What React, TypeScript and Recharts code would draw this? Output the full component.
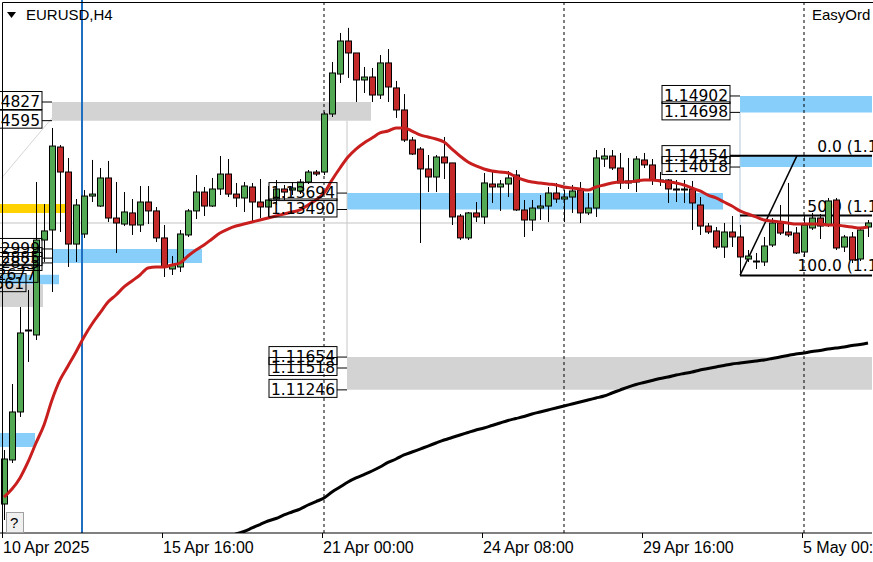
import React from "react";
import {
  ComposedChart,
  Bar,
  Line,
  XAxis,
  YAxis,
  ReferenceArea,
  ReferenceLine,
  ReferenceDot,
} from "recharts";

// EURUSD H4, bar 0 = 10 Apr 2025 08:00 (six bars a day)
const opens = [
  1.09826, 1.10374, 1.10971, 1.11979, 1.11929, 1.1311, 1.13235, 1.14267, 1.13956, 1.1306,
  1.13185, 1.13657, 1.13533, 1.13882, 1.13384, 1.13309, 1.13447, 1.13297, 1.13583, 1.13472,
  1.13136, 1.1275, 1.12775, 1.13173, 1.13472, 1.13707, 1.13533, 1.13745, 1.13931, 1.13682,
  1.13633, 1.1377, 1.13583, 1.13521, 1.1362, 1.13745, 1.13732, 1.1372, 1.13832, 1.13956,
  1.13956, 1.14678, 1.15175, 1.15586, 1.15437, 1.15101, 1.15138, 1.14914, 1.15313, 1.15002,
  1.14728, 1.14354, 1.14242, 1.13994, 1.13894, 1.14143, 1.14069, 1.13409, 1.13136, 1.13447,
  1.13397, 1.13807, 1.1377, 1.13807, 1.13919, 1.13484, 1.13359, 1.13508, 1.13533, 1.13695,
  1.1362, 1.13645, 1.13732, 1.13447, 1.13508, 1.14118, 1.14155, 1.14006, 1.1382, 1.13832,
  1.14106, 1.14044, 1.13845, 1.13857, 1.13745, 1.13732, 1.13745, 1.13546, 1.13284, 1.13223,
  1.13023, 1.1321, 1.13148, 1.12874, 1.12849, 1.12837, 1.13048, 1.13322, 1.1321, 1.13197,
  1.12961, 1.1326, 1.13384, 1.13297, 1.13608, 1.13023, 1.13148, 1.12874, 1.13272,
];
const highs = [
  1.10498, 1.11319, 1.12277, 1.12488, 1.13832, 1.13558, 1.14504, 1.14292, 1.14131, 1.1362,
  1.13732, 1.14106, 1.14006, 1.14094, 1.13832, 1.13707, 1.1362, 1.13782, 1.13782, 1.13521,
  1.13297, 1.12911, 1.13235, 1.13496, 1.13919, 1.1377, 1.13882, 1.14155, 1.14118, 1.1382,
  1.13832, 1.1382, 1.13869, 1.13782, 1.13857, 1.13795, 1.13832, 1.13869, 1.13981, 1.13981,
  1.14703, 1.15325, 1.15686, 1.15749, 1.15437, 1.15263, 1.15251, 1.15412, 1.15486, 1.15089,
  1.14926, 1.14392, 1.14267, 1.14168, 1.14168, 1.14392, 1.14069, 1.13434, 1.13459, 1.13583,
  1.13944, 1.13956, 1.13857, 1.13969, 1.13981, 1.13608, 1.13608, 1.1367, 1.1377, 1.1382,
  1.13732, 1.13795, 1.13832, 1.13695, 1.1423, 1.14255, 1.1423, 1.14193, 1.14131, 1.14155,
  1.14193, 1.14118, 1.13956, 1.13869, 1.13857, 1.13857, 1.13845, 1.13645, 1.13322, 1.13272,
  1.13322, 1.13409, 1.13297, 1.12986, 1.12949, 1.13148, 1.13384, 1.13546, 1.1382, 1.13272,
  1.13421, 1.13447, 1.13434, 1.13633, 1.13633, 1.13173, 1.1321, 1.13272, 1.13359,
];
const lows = [
  1.09627, 1.10337, 1.10909, 1.11593, 1.11866, 1.12837, 1.12463, 1.1321, 1.12775, 1.12837,
  1.13136, 1.13583, 1.13521, 1.13334, 1.12949, 1.13284, 1.13173, 1.1321, 1.13309, 1.13085,
  1.1265, 1.12675, 1.12712, 1.13148, 1.13371, 1.13409, 1.13521, 1.1367, 1.13645, 1.13521,
  1.13459, 1.13347, 1.13384, 1.13397, 1.13546, 1.13608, 1.1367, 1.13682, 1.13807, 1.13906,
  1.13919, 1.14641, 1.15064, 1.15126, 1.14827, 1.14939, 1.14827, 1.14864, 1.14827, 1.14629,
  1.14329, 1.14168, 1.13073, 1.13707, 1.13707, 1.13869, 1.13297, 1.1311, 1.1311, 1.13334,
  1.13309, 1.13571, 1.13472, 1.13645, 1.13472, 1.13148, 1.13223, 1.13359, 1.13334, 1.13571,
  1.13334, 1.13447, 1.13322, 1.13421, 1.13397, 1.14019, 1.13981, 1.13745, 1.13745, 1.13707,
  1.14006, 1.13795, 1.13782, 1.13571, 1.13583, 1.13571, 1.13235, 1.13173, 1.13185, 1.12998,
  1.12887, 1.13023, 1.12675, 1.12837, 1.1275, 1.12787, 1.13023, 1.13173, 1.13148, 1.12936,
  1.12899, 1.13235, 1.13123, 1.13272, 1.12986, 1.12961, 1.12824, 1.12849, 1.13148,
];
const closes = [
  1.10386, 1.10971, 1.11954, 1.11991, 1.1311, 1.13223, 1.14279, 1.13956, 1.1306, 1.13546,
  1.13657, 1.13682, 1.13882, 1.13384, 1.13322, 1.13459, 1.13297, 1.13583, 1.13472, 1.13136,
  1.12775, 1.128, 1.13185, 1.13472, 1.13707, 1.13533, 1.13745, 1.13931, 1.13682, 1.13633,
  1.13782, 1.13583, 1.13521, 1.13608, 1.13745, 1.13707, 1.13757, 1.13832, 1.13956, 1.13931,
  1.14678, 1.15188, 1.15586, 1.15437, 1.15101, 1.15138, 1.14914, 1.15313, 1.15014, 1.14728,
  1.14354, 1.1418, 1.13994, 1.13894, 1.14143, 1.14069, 1.13397, 1.13136, 1.13447, 1.13397,
  1.1382, 1.1377, 1.13807, 1.13882, 1.13484, 1.13359, 1.13508, 1.13533, 1.13695, 1.1362,
  1.13645, 1.1372, 1.13447, 1.13508, 1.14131, 1.14155, 1.14006, 1.1382, 1.13845, 1.14118,
  1.14044, 1.13857, 1.13857, 1.13745, 1.13732, 1.13745, 1.13571, 1.13284, 1.1321, 1.13023,
  1.1321, 1.13148, 1.12899, 1.12911, 1.12837, 1.13036, 1.13322, 1.13197, 1.13173, 1.12949,
  1.13297, 1.13384, 1.13284, 1.13596, 1.13011, 1.13148, 1.12862, 1.13235, 1.13322,
];

// fast moving average (red)
const maFast = [
  1.09913, 1.10012, 1.1015, 1.10349, 1.10585, 1.10809, 1.1112, 1.11369, 1.11543, 1.11717,
  1.11904, 1.12065, 1.12203, 1.12339, 1.12426, 1.12526, 1.12601, 1.12675, 1.12762, 1.12775,
  1.12775, 1.128, 1.12824, 1.12911, 1.12986, 1.13048, 1.13123, 1.13197, 1.13247, 1.13284,
  1.13309, 1.13334, 1.13359, 1.13384, 1.13409, 1.13434, 1.13459, 1.13484, 1.13546, 1.13608,
  1.13695, 1.13857, 1.14006, 1.14143, 1.14242, 1.14317, 1.14379, 1.14442, 1.14466, 1.14504,
  1.14504, 1.14466, 1.14417, 1.14392, 1.14367, 1.14329, 1.14242, 1.14155, 1.14081, 1.14031,
  1.13994, 1.13969, 1.13956, 1.13944, 1.13894, 1.13857, 1.13832, 1.1382, 1.13807, 1.13795,
  1.1377, 1.13757, 1.13745, 1.13732, 1.1377, 1.13795, 1.1382, 1.13832, 1.13832, 1.13845,
  1.13857, 1.13857, 1.13845, 1.13832, 1.1382, 1.13795, 1.13757, 1.1372, 1.1367, 1.13633,
  1.13583, 1.13533, 1.13472, 1.13434, 1.13397, 1.13359, 1.13347, 1.13334, 1.13322, 1.13309,
  1.13309, 1.13309, 1.13309, 1.13297, 1.13297, 1.13284, 1.13272, 1.1326, 1.13272,
];

// slow moving average (black), first bar it is shown on
const maSlowStart = 28;
const maSlow = [
  1.09403, 1.09453, 1.09484, 1.09528, 1.09571, 1.09615, 1.09646, 1.0969, 1.09727, 1.09764,
  1.09814, 1.09857, 1.09901, 1.09975, 1.10037, 1.101, 1.1015, 1.10193, 1.10237, 1.10287,
  1.10343, 1.10386, 1.10436, 1.10473, 1.1051, 1.10547, 1.10585, 1.10622, 1.10653, 1.10685,
  1.10716, 1.10747, 1.10772, 1.10803, 1.10834, 1.10865, 1.1089, 1.10915, 1.10946, 1.10971,
  1.10996, 1.11021, 1.11045, 1.1107, 1.11095, 1.1112, 1.11145, 1.1117, 1.11207, 1.11244,
  1.11281, 1.11313, 1.11338, 1.11363, 1.11388, 1.11406, 1.11431, 1.1145, 1.11468, 1.11493,
  1.11512, 1.11531, 1.1155, 1.11568, 1.1158, 1.11593, 1.11605, 1.11618, 1.11636, 1.11655,
  1.11674, 1.11692, 1.11705, 1.11723, 1.11736, 1.11754, 1.11767, 1.11779, 1.11798, 1.1181, 1.11829,
];

const tickBars = [0, 20, 40, 60, 80, 100];
const tickLabels = ["10 Apr 2025", "15 Apr 16:00", "21 Apr 00:00", "24 Apr 08:00", "29 Apr 16:00", "5 May 00:00"];
const weekBars = [40, 70, 100];

// drawn zones: from bar, to bar, top price, bottom price
const zones = [
  { from: 6, to: 45.875, top: 1.14827, bottom: 1.14595, kind: "grey" },
  { from: 42.875, to: 89.875, top: 1.13694, bottom: 1.1349, kind: "blue" },
  { from: 92, to: 108.5, top: 1.14902, bottom: 1.14698, kind: "blue" },
  { from: 92, to: 108.5, top: 1.14154, bottom: 1.14018, kind: "blue" },
  { from: 42.875, to: 108.5, top: 1.11654, bottom: 1.11246, kind: "grey" },
  { from: 6, to: 24.75, top: 1.12999, bottom: 1.12825, kind: "blue" },
  { from: -0.5, to: 6.875, top: 1.12677, bottom: 1.12561, kind: "blue" },
  { from: -0.5, to: 4.875, top: 1.12561, bottom: 1.12277, kind: "grey" },
  { from: -0.5, to: 3.875, top: 1.10709, bottom: 1.10535, kind: "blue" },
  { from: -0.5, to: 7.625, top: 1.13558, bottom: 1.13446, kind: "gold" },
];

// price tags attached to the zones
const tags = [
  { at: 6, price: 1.14827, link: true },
  { at: 6, price: 1.14595, link: true },
  { at: 6, price: 1.12999, link: true },
  { at: 6, price: 1.12885, link: true },
  { at: 6, price: 1.12825, link: true },
  { at: 4.25, price: 1.12677, link: false },
  { at: 2.75, price: 1.12561, link: false },
  { at: 42.875, price: 1.13694, link: true },
  { at: 42.875, price: 1.1349, link: true },
  { at: 42.875, price: 1.11654, link: true },
  { at: 42.875, price: 1.11518, link: true },
  { at: 42.875, price: 1.11246, link: true },
  { at: 92, price: 1.14902, link: true },
  { at: 92, price: 1.14698, link: true },
  { at: 92, price: 1.14154, link: true },
  { at: 92, price: 1.14018, link: true },
];

// fibonacci retracement
const fibFrom = 92;
const fibTo = 99.125;
const fibLevels = [
  { name: "0.0", price: 1.1416 },
  { name: "50.0", price: 1.13415 },
  { name: "100.0", price: 1.1267 },
];

const bidLine = 1.13322;

const UP = "#53A853";
const DOWN = "#C42A2A";
const zoneColor: Record<string, string> = { grey: "#D3D3D3", blue: "#87CEFA", gold: "#FFD200" };
const LABEL_FONT = "DejaVu Sans";
const AXIS_FONT = "Liberation Sans";

const rows = opens.map((o, i) => ({
  i,
  o,
  h: highs[i],
  l: lows[i],
  c: closes[i],
  range: [lows[i], highs[i]],
  fast: maFast[i],
  slow: i >= maSlowStart ? maSlow[i - maSlowStart] : null,
}));

const Candle = (props: any) => {
  const { x, y, width, height, payload } = props;
  if (x == null || !payload) return null;
  const yTop = Math.min(y, y + height);
  const hgt = Math.abs(height);
  const { o, h, l, c } = payload;
  const span = h - l || 1e-9;
  const toY = (v: number) => yTop + ((h - v) / span) * hgt;
  const cx = Math.round(x + width / 2) + 0.5;
  const top = toY(Math.max(o, c));
  const bot = toY(Math.min(o, c));
  return (
    <g>
      <line x1={cx} x2={cx} y1={yTop} y2={yTop + hgt} stroke="#000" strokeWidth={1} />
      <rect
        x={cx - 3}
        y={top}
        width={6}
        height={Math.max(bot - top, 1)}
        fill={c >= o ? UP : DOWN}
        stroke="#000"
        strokeWidth={1}
      />
    </g>
  );
};

const priceTag = (price: number, link: boolean) => (p: any) => {
  const right = link ? p.cx - 10 : p.cx;
  const cy = p.cy;
  return (
    <g>
      {link && <line x1={right} x2={p.cx} y1={cy} y2={cy} stroke="#000" strokeWidth={1} />}
      <rect x={right - 68} y={cy - 10.5} width={68} height={18} fill="none" stroke="#000" strokeWidth={1} />
      <text x={right - 66} y={cy + 5} fontSize={15.5} fontFamily={LABEL_FONT} fill="#000">
        {price.toFixed(5)}
      </text>
    </g>
  );
};

const fibText = (name: string, price: number) => (p: any) => (
  <text x={p.cx + 51} y={p.cy - 4} fontSize={15.5} fontFamily={LABEL_FONT} fill="#000" textAnchor="end">
    {`${name} (${price.toFixed(5)})`}
  </text>
);

const TimeTick = (p: any) => {
  const idx = tickBars.indexOf(p.payload.value);
  return (
    <g>
      <line x1={p.x - 1.5} x2={p.x - 1.5} y1={p.y} y2={p.y + 5} stroke="#000" />
      <text x={p.x - 1} y={p.y + 20} fontSize={16} fontFamily={AXIS_FONT} fill="#000" textAnchor="start">
        {idx >= 0 ? tickLabels[idx] : ""}
      </text>
    </g>
  );
};

export default function App() {
  return (
    <div
      style={{
        position: "absolute",
        left: 0,
        top: 0,
        width: 873,
        height: 562,
        overflow: "hidden",
        background: "#fff",
      }}
    >
      <ComposedChart width={873} height={562} data={rows} margin={{ top: 0, right: 1, bottom: 0, left: 0 }}>
        <XAxis
          xAxisId="num"
          type="number"
          dataKey="i"
          domain={[-0.5, 108.5]}
          allowDataOverflow
          ticks={tickBars}
          interval={0}
          tick={(p: any) => <TimeTick {...p} />}
          tickLine={false}
          tickSize={0}
          tickMargin={0}
          axisLine={{ stroke: "#000" }}
          height={29}
        />
        <XAxis xAxisId="cat" type="category" dataKey="i" hide height={0} />
        <YAxis yAxisId="p" type="number" hide domain={[1.094655, 1.16096]} allowDataOverflow />

        {zones.map((z, n) => (
          <ReferenceArea
            key={`z${n}`}
            xAxisId="num"
            yAxisId="p"
            x1={z.from}
            x2={z.to}
            y1={z.bottom}
            y2={z.top}
            fill={zoneColor[z.kind]}
            fillOpacity={1}
            stroke="none"
            ifOverflow="hidden"
            zIndex={100}
          />
        ))}

        <ReferenceLine xAxisId="num" yAxisId="p" y={bidLine} stroke="#C4C4C4" strokeWidth={1} zIndex={120} />
        {weekBars.map((b) => (
          <ReferenceLine
            key={`w${b}`}
            xAxisId="num"
            yAxisId="p"
            x={b}
            stroke="#000"
            strokeWidth={1}
            strokeDasharray="3 3"
            zIndex={120}
          />
        ))}
        <ReferenceLine xAxisId="num" yAxisId="p" x={9.75} stroke="#1E6EC2" strokeWidth={2} zIndex={120} />
        <ReferenceLine
          xAxisId="num"
          yAxisId="p"
          segment={[{ x: 42.875, y: 1.14595 }, { x: 42.875, y: 1.11654 }]}
          stroke="#C8C8C8"
          strokeWidth={1}
          zIndex={120}
        />
        <ReferenceLine
          xAxisId="num"
          yAxisId="p"
          segment={[{ x: 92, y: 1.14698 }, { x: 92, y: 1.13272 }]}
          stroke="#B4C8DC"
          strokeWidth={1}
          zIndex={120}
        />
        <ReferenceLine
          xAxisId="num"
          yAxisId="p"
          segment={[{ x: -0.3, y: 1.13882 }, { x: 6, y: 1.14628 }]}
          stroke="#D6D6D6"
          strokeWidth={1}
          zIndex={120}
        />

        <Line
          xAxisId="cat"
          yAxisId="p"
          dataKey="slow"
          type="monotone"
          stroke="#000"
          strokeWidth={3}
          dot={false}
          activeDot={false}
          isAnimationActive={false}
          zIndex={200}
        />

        {fibLevels.map((f, n) => (
          <ReferenceLine
            key={`f${n}`}
            xAxisId="num"
            yAxisId="p"
            segment={[{ x: n === 0 ? 90.75 : fibFrom, y: f.price }, { x: 108.5, y: f.price }]}
            stroke="#000"
            strokeWidth={2}
            zIndex={250}
          />
        ))}
        <ReferenceLine
          xAxisId="num"
          yAxisId="p"
          segment={[{ x: fibFrom, y: fibLevels[2].price }, { x: fibTo, y: fibLevels[0].price }]}
          stroke="#000"
          strokeWidth={1.5}
          zIndex={250}
        />
        {fibLevels.map((f, n) => (
          <ReferenceDot
            key={`ft${n}`}
            xAxisId="num"
            yAxisId="p"
            x={108.5}
            y={f.price}
            r={1}
            shape={fibText(f.name, f.price)}
            zIndex={260}
          />
        ))}

        <Bar
          xAxisId="cat"
          yAxisId="p"
          dataKey="range"
          barSize={6}
          shape={Candle}
          isAnimationActive={false}
          zIndex={300}
        />

        <Line
          xAxisId="cat"
          yAxisId="p"
          dataKey="fast"
          type="monotone"
          stroke="#C81E1E"
          strokeWidth={3}
          dot={false}
          activeDot={false}
          isAnimationActive={false}
          zIndex={400}
        />

        {tags.map((t, n) => (
          <ReferenceDot
            key={`t${n}`}
            xAxisId="num"
            yAxisId="p"
            x={t.at}
            y={t.price}
            r={1}
            shape={priceTag(t.price, t.link)}
            zIndex={600}
          />
        ))}
      </ComposedChart>

      <svg
        width={873}
        height={562}
        style={{ position: "absolute", left: 0, top: 0, pointerEvents: "none" }}
      >
        <line x1={2.5} x2={873} y1={2.5} y2={2.5} stroke="#000" strokeWidth={1} />
        <line x1={2.5} x2={2.5} y1={2.5} y2={533} stroke="#000" strokeWidth={1} />
        <polygon points="7,12 16,12 11.5,18" fill="#000" />
        <text x={26} y={20} fontSize={15} fontFamily={AXIS_FONT} fill="#000">
          EURUSD,H4
        </text>
        <text x={812} y={20} fontSize={15} fontFamily={AXIS_FONT} fill="#000">
          EasyOrd
        </text>
        <rect x={6.5} y={512.5} width={17} height={20} fill="#F0F0F0" stroke="#A0A0A0" />
        <text x={10} y={528} fontSize={15} fontFamily={AXIS_FONT} fill="#000">
          ?
        </text>
      </svg>
    </div>
  );
}
